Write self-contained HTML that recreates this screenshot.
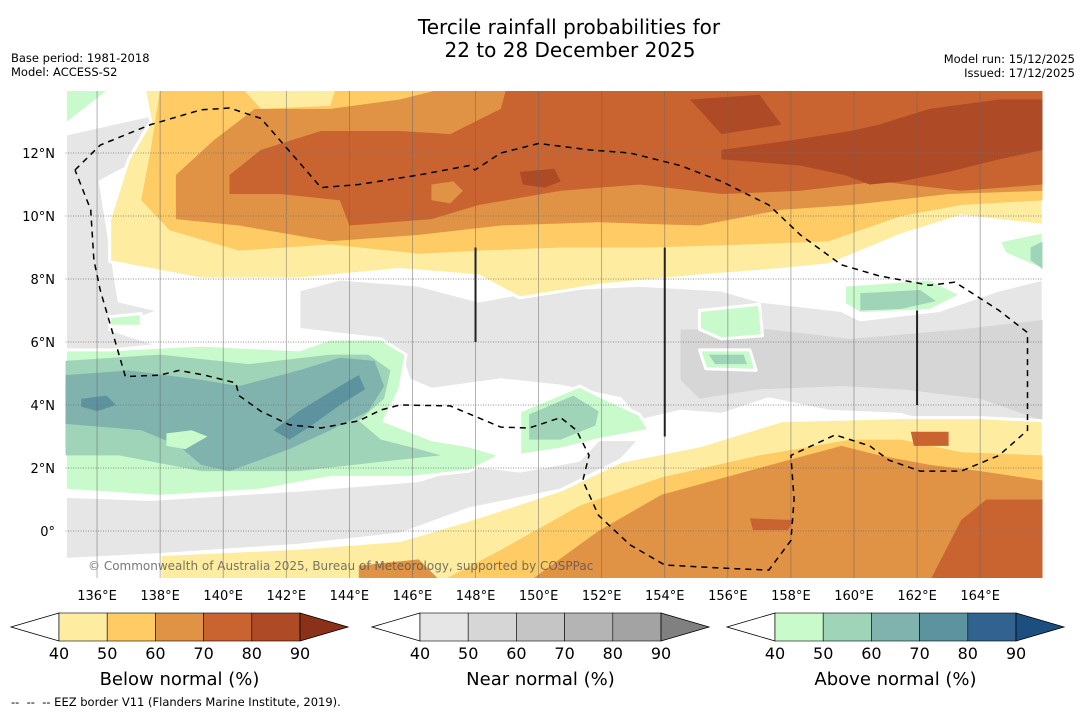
<!DOCTYPE html>
<html><head><meta charset="utf-8"><style>
html,body{margin:0;padding:0;background:#fff;}
body{width:1085px;height:713px;overflow:hidden;font-family:"DejaVu Sans","Liberation Sans",sans-serif;}
svg text{font-family:"DejaVu Sans","Liberation Sans",sans-serif;}
</style></head><body>
<svg id="chart" width="1085" height="713" viewBox="0 0 1085 713" xmlns="http://www.w3.org/2000/svg">
<text x="569" y="34" font-size="20" text-anchor="middle">Tercile rainfall probabilities for</text>
<text x="570" y="57" font-size="20" text-anchor="middle">22 to 28 December 2025</text>
<text x="11" y="62" font-size="11.5">Base period: 1981-2018</text>
<text x="11" y="76" font-size="11.5">Model: ACCESS-S2</text>
<text x="1075" y="63" font-size="11.5" text-anchor="end">Model run: 15/12/2025</text>
<text x="1075" y="77" font-size="11.5" text-anchor="end">Issued: 17/12/2025</text>
<defs><clipPath id="mapclip"><rect x="65.5" y="91" width="977" height="487"/></clipPath></defs>
<g id="map" clip-path="url(#mapclip)"></g>
<g id="axes"></g>
<g id="bars"></g>
<text x="11" y="706" font-size="11.5" xml:space="preserve">--  --  -- EEZ border V11 (Flanders Marine Institute, 2019).</text>
</svg>
<script>
const NS="http://www.w3.org/2000/svg";
const lonTicks=[136,138,140,142,144,146,148,150,152,154,156,158,160,162,164];
const latTicks=[0,2,4,6,8,10,12];
const barLevels=[40,50,60,70,80,90];
const barTitles=["Below normal (%)","Near normal (%)","Above normal (%)"];
const belowColors=["#FEEDA0","#FECB64","#E09245","#C96330","#AE4A25","#8C3119"];
const nearColors=["#E6E6E6","#D6D6D6","#C5C5C5","#B4B4B4","#A3A3A3","#808080"];
const aboveColors=["#C8FACB","#A0D4B9","#80B3AE","#5C939F","#326390","#1C4F80"];
// contour regions: [class, [[lon,lat],...]]  (class ending in "x" = inner patch, no white edge)
const regions=[
["n0",[[135,12.6],[137.7,13.2],[138.0,12.1],[136.1,11.1],[136.7,7.3],[138.0,7.0],[136.4,6.4],[138.0,5.9],[135,5.6]]],
["n0",[[142.4,7.65],[143.7,8.0],[146.2,7.8],[148.1,7.3],[150.0,7.65],[153.2,7.8],[155.8,7.65],[157.0,7.3],[159.6,7.0],[160.2,6.7],[162.7,7.0],[164.6,7.65],[166,8.0],[166,2.9],[164.0,2.9],[161.5,3.7],[159.2,3.8],[157.3,4.2],[155.8,3.7],[154.5,3.8],[153.2,3.5],[152.6,4.2],[150.7,4.6],[148.8,4.8],[146.6,4.5],[145.9,4.8],[145.6,5.7],[145.0,6.1],[142.4,6.4]]],
["n0",[[135,1.1],[137.7,1.0],[142.4,1.3],[146.2,1.6],[147.8,2.1],[149.4,1.9],[151.3,2.25],[151.9,2.9],[153.2,2.9],[152.6,2.25],[150.7,1.3],[147.8,0.7],[145.6,-0.1],[142.4,-0.45],[138.0,-0.75],[135,-0.9]]],
["n1",[[154.5,6.4],[157.3,6.4],[159.9,6.1],[163.4,6.4],[166,6.7],[166,3.5],[164.0,4.2],[161.5,4.5],[159.6,4.6],[157.0,4.5],[155.1,4.2],[154.5,4.8]]],
["b0",[[137.4,14.5],[166,14.5],[166,9.7],[163.4,10.0],[161.5,9.4],[159.2,8.45],[157.7,8.3],[155.1,8.1],[151.9,7.8],[149.4,7.4],[148.1,8.1],[145.6,8.3],[142.4,8.0],[139.3,8.0],[136.4,8.55],[136.4,9.9],[137.0,11.8],[137.7,13.0]]],
["b1",[[138.0,14.5],[138.0,14],[137.7,12.1],[137.4,10.5],[138.3,9.55],[140.5,8.9],[143.4,9.1],[146.2,8.8],[148.1,8.9],[150.7,9.0],[153.5,9.0],[156.7,9.1],[159.2,9.2],[161.5,10.0],[163.4,10.35],[166,10.5],[166,14.5]]],
["b0x",[[140.2,14.5],[143.7,14.5],[143.4,13.5],[141.2,13.4]]],
["b2",[[141.0,13.4],[139.7,12.4],[138.5,11.3],[138.5,9.9],[140.5,9.7],[143.4,9.2],[146.2,9.4],[148.8,9.7],[151.9,9.8],[155.1,9.7],[157.7,10.2],[159.9,10.35],[163.0,10.7],[166,10.8],[166,14.5],[148.8,14.5],[145.6,13.7],[143.4,13.4]]],
["b3",[[140.2,11.3],[141.2,12.1],[143.1,12.7],[145.6,12.7],[147.2,12.6],[148.8,13.4],[149.1,14.5],[166,14.5],[166,11.0],[163.4,10.8],[160.8,11.1],[158.3,10.8],[155.8,10.7],[153.2,11.0],[150.7,10.8],[148.1,10.35],[146.6,9.9],[144.0,9.7],[143.7,10.5],[141.8,10.7],[140.2,10.7]]],
["b2",[[146.6,11.0],[147.3,11.1],[147.6,10.8],[147.2,10.4],[146.6,10.5]]],
["b4",[[149.4,11.4],[150.5,11.5],[150.7,11.1],[150.2,10.9],[149.5,11.0]]],
["b4",[[155.8,12.1],[158.0,12.4],[159.9,12.7],[160.8,12.9],[162.4,13.4],[164.6,13.7],[166,13.7],[166,12.1],[164.6,11.8],[163.0,11.4],[161.5,11.1],[160.5,11.0],[159.7,11.3],[158.3,11.6],[155.8,11.8]]],
["b4",[[154.8,13.7],[157.0,13.85],[157.7,12.9],[155.8,12.6]]],
["a0",[[135,14.5],[136.4,14.5],[136.4,14],[135,12.9]]],
["a0",[[136.4,6.8],[137.4,6.9],[137.4,6.5],[136.4,6.5]]],
["a0",[[135,5.75],[136.4,5.75],[139.3,5.9],[142.4,5.75],[143.4,6.1],[145.0,6.1],[145.8,5.6],[145.6,4.5],[145.1,3.5],[146.6,2.9],[147.8,2.7],[148.8,2.4],[147.8,1.9],[145.9,1.7],[143.4,1.7],[141.2,1.3],[138.0,1.1],[135,1.3]]],
["a1",[[135,5.4],[138.0,5.6],[140.8,5.3],[143.4,5.6],[144.6,5.6],[145.3,5.1],[145.1,4.2],[144.3,3.5],[145.0,2.9],[146.2,2.6],[146.9,2.4],[145.0,2.2],[142.4,1.9],[139.3,1.9],[136.7,2.4],[135,2.4]]],
["a2",[[135,4.95],[137.0,5.1],[139.3,4.8],[140.5,4.6],[142.4,5.1],[143.7,5.5],[144.8,5.4],[145.1,4.6],[144.6,3.8],[143.4,3.2],[142.1,2.6],[140.2,1.9],[139.3,2.1],[138.6,2.7],[137.4,3.2],[135,3.4]]],
["a0x",[[138.2,3.1],[139.0,3.2],[139.5,3.0],[138.8,2.6],[138.2,2.7]]],
["a3",[[141.6,3.2],[142.4,3.8],[143.7,4.6],[144.3,4.95],[144.5,4.5],[143.7,4.0],[142.8,3.35],[142.1,2.9]]],
["a3",[[135.5,4.2],[136.3,4.3],[136.6,4.0],[136.0,3.8],[135.5,3.95]]],
["a0",[[149.4,3.8],[151.3,4.6],[151.9,4.3],[153.2,3.7],[153.5,3.2],[151.9,2.9],[150.7,2.6],[149.4,2.4]]],
["a1",[[149.7,3.7],[151.1,4.3],[151.9,3.8],[151.8,3.35],[150.7,2.9],[149.7,2.9]]],
["a0",[[155.1,7.0],[157.0,7.2],[157.1,6.2],[155.8,6.1],[155.1,6.4]]],
["a0",[[155.1,5.75],[156.7,5.75],[156.9,5.1],[155.3,5.15]]],
["a1",[[155.4,5.6],[156.5,5.6],[156.6,5.3],[155.6,5.3]]],
["a0",[[159.7,7.8],[162.4,8.0],[163.4,7.5],[162.4,7.0],[160.2,6.9],[159.7,7.2]]],
["a1",[[160.2,7.55],[162.1,7.65],[162.6,7.3],[161.5,7.05],[160.2,7.0]]],
["a0",[[164.6,9.2],[166,9.5],[166,8.3],[165.6,8.45],[164.8,8.8]]],
["a1",[[165.6,9.0],[166,9.2],[166,8.3],[165.6,8.6]]],
["b0",[[138.0,-1.6],[138.0,-0.75],[142.4,-0.55],[145.6,-0.3],[147.8,0.35],[150.7,1.3],[152.6,2.2],[155.1,2.7],[157.7,3.5],[161.5,3.6],[164.0,3.6],[166,3.5],[166,-1.6]]],
["b1",[[146.9,-1.6],[148.8,-0.6],[151.3,0.8],[153.9,1.7],[157.0,2.4],[159.9,2.9],[161.5,2.9],[163.4,2.5],[166,2.4],[166,-1.6]]],
["b2",[[149.7,-1.6],[151.9,0],[153.9,1.15],[157.0,2.0],[159.6,2.7],[160.8,2.4],[162.4,2.1],[164.0,1.9],[166,1.6],[166,-1.6]]],
["b2",[[144.3,-1.6],[144.3,-1.1],[146.2,-0.9],[146.9,-1.6]]],
["b3",[[162.4,-1.6],[163.4,0.35],[164.2,1.0],[166,1.0],[166,-1.6]]],
["b3",[[156.7,0.4],[158.1,0.35],[157.9,0.03],[156.8,0.03]]],
["b3",[[161.8,3.15],[163.0,3.15],[163.0,2.7],[161.9,2.7]]]
];
const eez=[[135.3,11.46],[136.1,12.25],[137.7,12.9],[139.3,13.37],[140.2,13.43],[141.2,13.1],[143.1,10.9],[144.3,11.0],[146.2,11.3],[147.8,11.6],[147.98,11.46],[148.8,12.0],[150.0,12.3],[151.6,12.1],[152.9,12.0],[154.5,11.6],[155.8,11.1],[157.3,10.35],[158.3,9.4],[159.6,8.45],[160.8,8.1],[162.4,7.8],[163.2,7.9],[164.6,7.0],[165.5,6.3],[165.5,3.2],[164.6,2.4],[163.4,1.9],[162.1,1.9],[161.1,2.25],[160.5,2.7],[159.4,3.05],[158.0,2.4],[158.1,1.0],[158.0,-0.3],[157.3,-1.24],[155.7,-1.17],[154.0,-1.08],[152.9,-0.44],[151.9,0.5],[151.4,1.6],[151.6,2.4],[151.2,3.2],[150.7,3.6],[149.7,3.27],[148.8,3.3],[147.5,3.84],[147.2,3.97],[145.6,4.0],[145.0,3.84],[144.3,3.5],[143.1,3.27],[142.1,3.37],[141.2,3.8],[140.5,4.3],[140.4,4.7],[139.4,4.95],[138.6,5.1],[138.0,4.95],[136.9,4.9],[136.1,7.65],[135.9,8.6],[135.8,10.2],[135.3,11.46]];
const borderLines=[[[148,9],[148,6]],[[154,9],[154,3]],[[162,7],[162,4]]];

const X=lon=>65.5+(lon-135)*31.54;
const Y=lat=>531-lat*31.5;
const colorOf={n0:nearColors[0],n1:nearColors[1],b0:belowColors[0],b1:belowColors[1],b2:belowColors[2],b3:belowColors[3],b4:belowColors[4],a0:aboveColors[0],a1:aboveColors[1],a2:aboveColors[2],a3:aboveColors[3]};
function mk(tag,attrs,parent){const e=document.createElementNS(NS,tag);for(const k in attrs)e.setAttribute(k,attrs[k]);parent.appendChild(e);return e;}
const map=document.getElementById('map');
const bg=mk('rect',{x:65.5,y:91,width:977,height:487,fill:'#fff'},map);


regions.forEach(r=>{
  const cls=r[0].slice(0,2);
  const inner=r[0].length>2;
  const pts=r[1].map(p=>X(p[0]).toFixed(1)+','+Y(p[1]).toFixed(1)).join(' ');
  const outer=(cls[1]==='0')&&!inner;
  const p=mk('polygon',{points:pts,fill:colorOf[cls],stroke:outer?'#fff':'none','stroke-width':outer?3:0,'stroke-linejoin':'round'},map);
  
  
});
lonTicks.forEach(l=>{
  const ln=mk('line',{x1:X(l),x2:X(l),y1:91,y2:578,stroke:'#666','stroke-width':0.7,'stroke-opacity':0.7},map);
  
  
});
latTicks.forEach(l=>{
  const ln=mk('line',{x1:65.5,x2:1042.5,y1:Y(l),y2:Y(l),stroke:'#777','stroke-width':1,'stroke-dasharray':'1,1.5','stroke-opacity':0.8},map);
  
  
});
const ez=mk('polyline',{points:eez.map(p=>X(p[0]).toFixed(1)+','+Y(p[1]).toFixed(1)).join(' '),fill:'none',stroke:'#000','stroke-width':1.5,'stroke-dasharray':'6,5'},map);


borderLines.forEach(b=>{
  const ln=mk('line',{x1:X(b[0][0]),y1:Y(b[0][1]),x2:X(b[1][0]),y2:Y(b[1][1]),stroke:'#222','stroke-width':2},map);
  
  
});
const cp=mk('text',{x:88,y:570,'font-size':12,fill:'#555','fill-opacity':0.8},map);
cp.textContent='© Commonwealth of Australia 2025, Bureau of Meteorology, supported by COSPPac';


const axes=document.getElementById('axes');
lonTicks.forEach(l=>{
  const t=mk('text',{x:X(l),y:600,'font-size':13,'text-anchor':'middle'},axes);
  t.textContent=l+'°E';
  
  
});
latTicks.forEach(l=>{
  const t=mk('text',{x:55,y:Y(l)+5,'font-size':13,'text-anchor':'end'},axes);
  t.textContent=l===0?'0°':l+'°N';
  
  
});
const bars=document.getElementById('bars');
const barLeft=[59,420,775];
const palettes=[belowColors,nearColors,aboveColors];
const segW=48.2, barTop=613, barH=28;
palettes.forEach((pal,i)=>{
  const x0=barLeft[i], x1=x0+segW*5, ym=barTop+barH/2;
  const g=mk('g',{},bars);
  
  
  mk('polygon',{points:`${x0},${barTop} ${x0-48},${ym} ${x0},${barTop+barH}`,fill:'#fff',stroke:'#000','stroke-width':0.8},g);
  for(let k=0;k<5;k++){
    mk('rect',{x:x0+k*segW,y:barTop,width:segW,height:barH,fill:pal[k],stroke:'#000','stroke-width':0.6},g);
  }
  mk('polygon',{points:`${x1},${barTop} ${x1+48},${ym} ${x1},${barTop+barH}`,fill:pal[5],stroke:'#000','stroke-width':0.8},g);
  barLevels.forEach((v,k)=>{
    const t=mk('text',{x:x0+k*segW,y:659,'font-size':16,'text-anchor':'middle'},g);
    t.textContent=v;
    
    
  });
  const tt=mk('text',{x:x0+segW*2.5,y:685,'font-size':18,'text-anchor':'middle'},g);
  tt.textContent=barTitles[i];
  
  
});
</script>
</body></html>
